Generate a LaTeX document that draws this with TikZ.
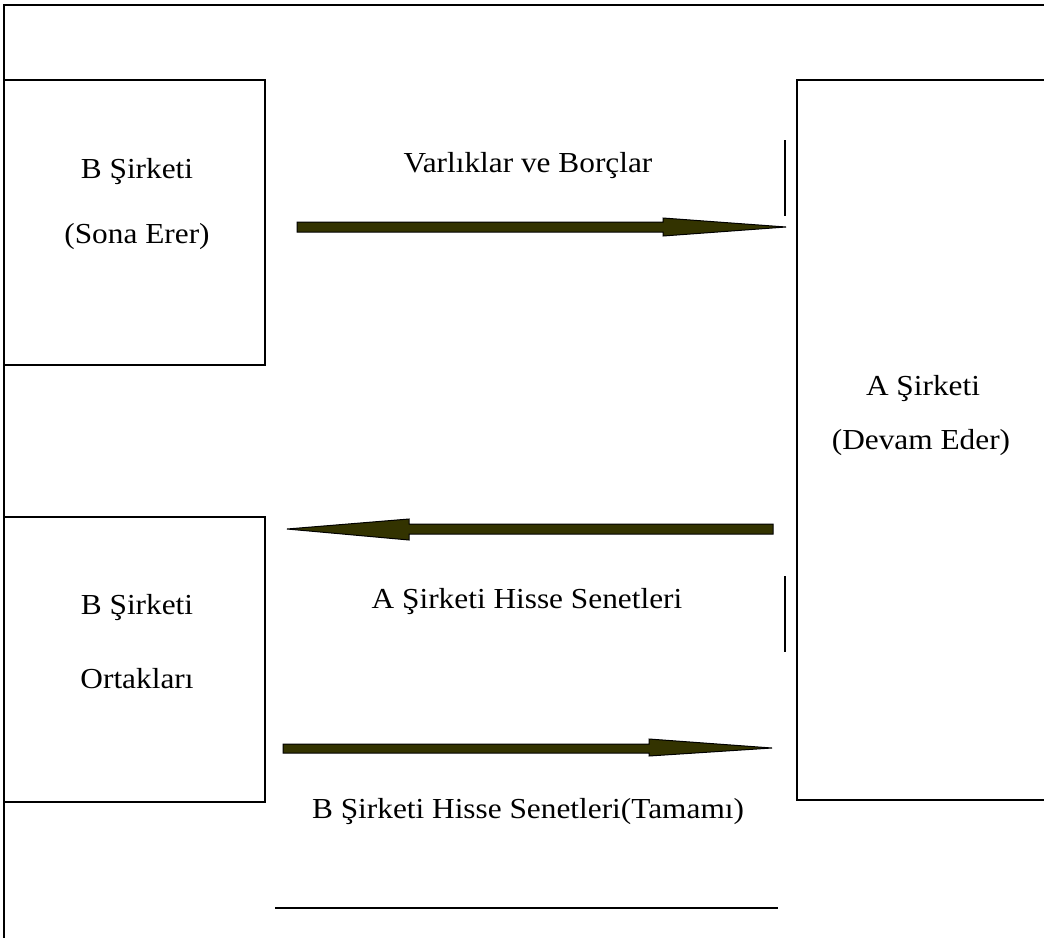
\documentclass[tikz,border=0pt]{standalone}
\usepackage{fontspec}
\setmainfont{Liberation Serif}
\definecolor{arrowfill}{RGB}{51,51,0}
\tikzset{
  frameline/.style={line width=2pt, black},
  boxline/.style={line width=2pt, black},
  tickline/.style={line width=2pt, black},
  blockarrow/.style={fill=arrowfill, draw=black, line width=1pt, line join=miter},
  txt/.style={font=\fontsize{29}{34}\selectfont, inner sep=0pt, anchor=base, xscale=1.08, transform shape}
}
\begin{document}
\begin{tikzpicture}[x=1pt,y=-1pt]
\useasboundingbox (0,0) rectangle (1044,938);
% outer frame (top and left)
\coordinate (fTR) at (1044,5);
\coordinate (fTL) at (4,5);
\coordinate (fBL) at (4,938);
\draw[frameline] (fTR) -- (fTL) -- (fBL);
% box B (top-left)
\coordinate (b1a) at (4,80);
\coordinate (b1b) at (265,365);
\draw[boxline] (b1a) rectangle (b1b);
% box B ortaklari (bottom-left)
\coordinate (b2a) at (4,517);
\coordinate (b2b) at (265,802);
\draw[boxline] (b2a) rectangle (b2b);
% box A (right, open to the right edge)
\coordinate (aTR) at (1044,80);
\coordinate (aTL) at (797,80);
\coordinate (aBL) at (797,800);
\coordinate (aBR) at (1044,800);
\draw[boxline] (aTR) -- (aTL) -- (aBL) -- (aBR);
% small vertical ticks
\coordinate (t1a) at (785,140);
\coordinate (t1b) at (785,216);
\draw[tickline] (t1a) -- (t1b);
\coordinate (t2a) at (785,576);
\coordinate (t2b) at (785,652);
\draw[tickline] (t2a) -- (t2b);
% bottom line
\coordinate (bl1) at (275,908);
\coordinate (bl2) at (778,908);
\draw[line width=1.5pt] (bl1) -- (bl2);
% arrow 1 (right)
\draw[blockarrow] (297,222) -- (663,222) -- (663,218) -- (786,227) -- (663,236) -- (663,232) -- (297,232) -- cycle;
% arrow 2 (left)
\draw[blockarrow] (773,524) -- (409,524) -- (409,519) -- (287,529) -- (409,540) -- (409,534) -- (773,534) -- cycle;
% arrow 3 (right)
\draw[blockarrow] (283,744) -- (649,744) -- (649,739) -- (772,748) -- (649,756) -- (649,753) -- (283,753) -- cycle;
% texts
\node[txt] (tB1) at (137,178) {B Şirketi};
\node[txt] (tB2) at (137,243) {(Sona Erer)};
\node[txt] (tV) at (528,172) {Varlıklar ve Borçlar};
\node[txt] (tA1) at (923,395) {A Şirketi};
\node[txt] (tA2) at (921,449) {(Devam Eder)};
\node[txt] (tAH) at (527,608) {A Şirketi Hisse Senetleri};
\node[txt] (tO1) at (137,614) {B Şirketi};
\node[txt] (tO2) at (137,688) {Ortakları};
\node[txt] (tBH) at (528,818) {B Şirketi Hisse Senetleri(Tamamı)};
\end{tikzpicture}
\end{document}
